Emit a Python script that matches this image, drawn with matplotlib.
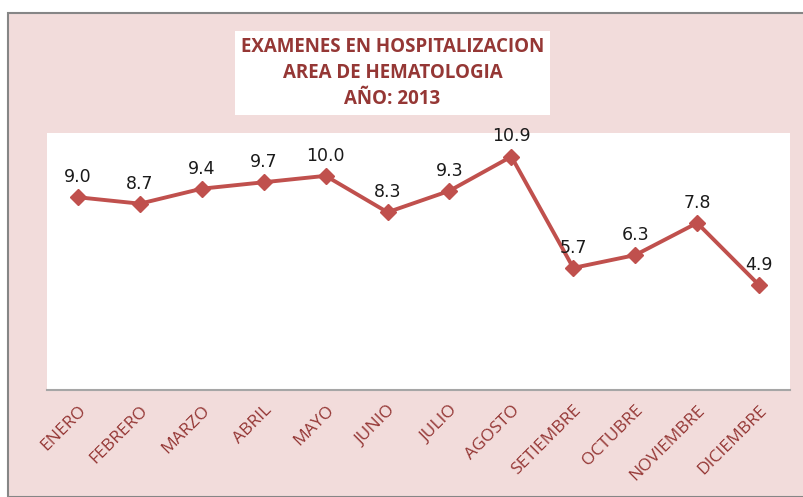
import matplotlib.pyplot as plt
from matplotlib.patches import Rectangle

meses = ['ENERO', 'FEBRERO', 'MARZO', 'ABRIL', 'MAYO', 'JUNIO', 'JULIO',
         'AGOSTO', 'SETIEMBRE', 'OCTUBRE', 'NOVIEMBRE', 'DICIEMBRE']
valores = [9.0, 8.7, 9.4, 9.7, 10.0, 8.3, 9.3, 10.9, 5.7, 6.3, 7.8, 4.9]

W, H = 804, 497
fig = plt.figure(figsize=(W / 100, H / 100), dpi=100)
fig.patch.set_facecolor('white')

# chart area background with border
fig.patches.append(Rectangle((8 / W, 0), 1, 1 - 13 / H, transform=fig.transFigure,
                             facecolor='#f2dcdb', edgecolor='#868686', linewidth=1.5,
                             zorder=-1))

ax = fig.add_axes([47 / W, 1 - 390 / H, (790 - 47) / W, (390 - 133) / H])
ax.set_facecolor('white')
x = list(range(len(meses)))
ax.plot(x, valores, color='#c0504d', linewidth=2.8, marker='D', markersize=8,
        markerfacecolor='#c0504d', markeredgecolor='#c0504d')
for xi, v in zip(x, valores):
    ax.annotate('{:.1f}'.format(v), (xi, v), xytext=(0, 8), textcoords='offset points',
                ha='center', va='bottom', fontsize=12.5, color='#1a1a1a')

ax.set_xlim(-0.5, 11.5)
ax.set_ylim(0, 12)
ax.set_yticks([])
ax.set_xticks(x)
ax.set_xticklabels(meses, rotation=45, ha='right', rotation_mode='anchor',
                   fontsize=12.5, color='#953735', family='Open Sans')
ax.tick_params(axis='x', length=0, pad=9)
for s in ['top', 'right', 'left']:
    ax.spines[s].set_visible(False)
ax.spines['bottom'].set_color('#a6a6a6')
ax.spines['bottom'].set_linewidth(1.5)

# title box
fig.text((230 + 555) / 2 / W, 1 - 73 / H,
         'EXAMENES EN HOSPITALIZACION\nAREA DE HEMATOLOGIA\nAÑO: 2013',
         ha='center', va='center', fontsize=13.5, fontweight='bold', color='#953735',
         family='Open Sans', linespacing=1.4,
         bbox=dict(boxstyle='square,pad=0.3', facecolor='white', edgecolor='none'))

fig.savefig('out.png', dpi=100)
